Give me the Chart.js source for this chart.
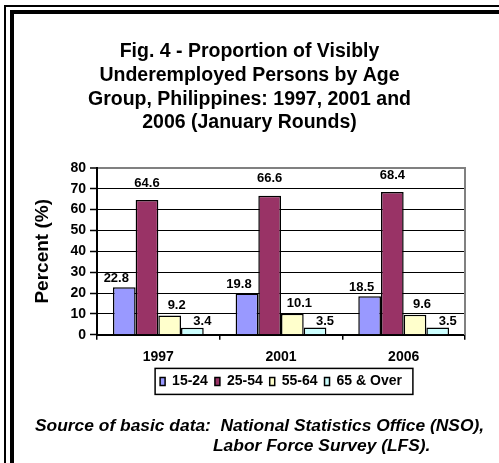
<!DOCTYPE html>
<html>
<head>
<meta charset="utf-8">
<script src="https://cdn.jsdelivr.net/npm/chart.js@4"></script>
<style>
  html, body { margin: 0; padding: 0; background: #fff; overflow: hidden; }
  body { width: 499px; height: 463px; position: relative; }
  .frame-outer { position: absolute; left: 4px; top: 5px; width: 700px; height: 700px; border: 2px solid #000; }
  .frame-inner { position: absolute; left: 10px; top: 10px; width: 700px; height: 700px; border: 4px solid #000; }
  #wrap { position: absolute; left: 0; top: 0; width: 499px; height: 463px; }
  .source { position: absolute; font: italic bold 17.4px "Liberation Sans", Arial, sans-serif; color: #000; white-space: nowrap; line-height: 20px; }
</style>
</head>
<body>
<div class="frame-outer"></div>
<div class="frame-inner"></div>
<div id="wrap"><canvas id="chart"></canvas></div>
<div class="source" style="left:35px; top:415px;">Source of basic data:&nbsp; National Statistics Office (NSO),</div>
<div class="source" style="left:213px; top:435px;">Labor Force Survey (LFS).</div>
<script>
const years = ["1997", "2001", "2006"];
const ageGroups = ["15-24", "25-54", "55-64", "65 & Over"];
const age15to24 = [22.8, 19.8, 18.5];
const age25to54 = [64.6, 66.6, 68.4];
const age55to64 = [9.2, 10.1, 9.6];
const age65over = [3.4, 3.5, 3.5];
const yTicks = [0, 10, 20, 30, 40, 50, 60, 70, 80];

const colors = ["#9999FF", "#993366", "#FFFFCC", "#CCFFFF"];
// label nudges (px) per series, to sit like the original
const labelDx = [-8, 0, 7, 10];
const labelDy = [9, 17, 10, 6];

const FONT = "'Liberation Sans', Arial, sans-serif";

// draws the value over each bar
const barLabels = {
  id: "barLabels",
  afterDatasetsDraw(chart) {
    const ctx = chart.ctx;
    ctx.save();
    ctx.font = "bold 13px " + FONT;
    ctx.fillStyle = "#000";
    ctx.textAlign = "center";
    ctx.textBaseline = "middle";
    chart.data.datasets.forEach((ds, i) => {
      chart.getDatasetMeta(i).data.forEach((bar, j) => {
        ctx.fillText(ds.data[j].toFixed(1), bar.x + labelDx[i], bar.y - labelDy[i]);
      });
    });
    ctx.restore();
  },
};

// box round the legend
const legendBox = {
  id: "legendBox",
  afterDraw(chart) {
    const boxes = chart.legend.legendHitBoxes;
    if (!boxes || !boxes.length) return;
    const first = boxes[0];
    const last = boxes[boxes.length - 1];
    const cy = first.top + first.height / 2;
    const ctx = chart.ctx;
    ctx.save();
    ctx.strokeStyle = "#000";
    ctx.lineWidth = 1.5;
    ctx.strokeRect(first.left - 5, cy - 13, last.left + last.width + 11 - (first.left - 5), 26);
    ctx.restore();
  },
};

new Chart(document.getElementById("chart"), {
  type: "bar",
  data: {
    labels: years,
    datasets: [age15to24, age25to54, age55to64, age65over].map((vals, i) => ({
      label: ageGroups[i],
      data: vals,
      backgroundColor: colors[i],
      borderColor: "#000",
      borderWidth: 1.5,
      categoryPercentage: 0.74,
      barPercentage: 1,
    })),
  },
  options: {
    responsive: true,
    maintainAspectRatio: false,
    animation: false,
    layout: { padding: { left: 27, right: 27, top: 0, bottom: 64.6 } },
    plugins: {
      title: {
        display: true,
        text: ["Fig. 4 - Proportion of Visibly", "Underemployed Persons by Age", "Group, Philippines: 1997, 2001 and", "2006 (January Rounds)"],
        color: "#000",
        font: { family: FONT, size: 19.5, weight: "bold", lineHeight: 1.215 },
        padding: { top: 40, bottom: 33 },
      },
      legend: {
        position: "bottom",
        fullSize: false,
        labels: {
          color: "#000",
          font: { family: FONT, size: 14, weight: "bold" },
          boxWidth: 5,
          boxHeight: 8,
          padding: 7,
        },
      },
      tooltip: { enabled: false },
    },
    scales: {
      x: {
        grid: { display: true, drawOnChartArea: false, offset: true, color: "#000", tickLength: 5, lineWidth: 1.5 },
        border: { color: "#000", width: 2 },
        ticks: { color: "#000", font: { family: FONT, size: 14, weight: "bold" }, padding: 9 },
        afterFit(scale) { scale.height = 32.6; },
      },
      y: {
        min: 0,
        max: 80,
        afterBuildTicks(scale) { scale.ticks = yTicks.map((v) => ({ value: v })); },
        grid: {
          color: (c) => (c.tick && c.tick.value === 80 ? "#808080" : "#000"),
          lineWidth: (c) => (c.tick && c.tick.value === 80 ? 2 : 1),
          tickColor: "#000",
          tickWidth: 1.5,
          tickLength: 7,
        },
        border: { color: "#000", width: 2 },
        ticks: { color: "#000", font: { family: FONT, size: 14, weight: "bold" }, padding: 4 },
        title: {
          display: true,
          text: "Percent (%)",
          color: "#000",
          font: { family: FONT, size: 19, weight: "bold" },
          padding: { top: 4, bottom: 0 },
        },
        afterFit(scale) { scale.width = 70; },
      },
      y2: {
        position: "right",
        min: 0,
        max: 80,
        grid: { display: false },
        ticks: { display: false },
        border: { color: "#808080", width: 2 },
        afterFit(scale) { scale.width = 7; },
      },
    },
  },
  plugins: [barLabels, legendBox],
});
</script>
</body>
</html>
